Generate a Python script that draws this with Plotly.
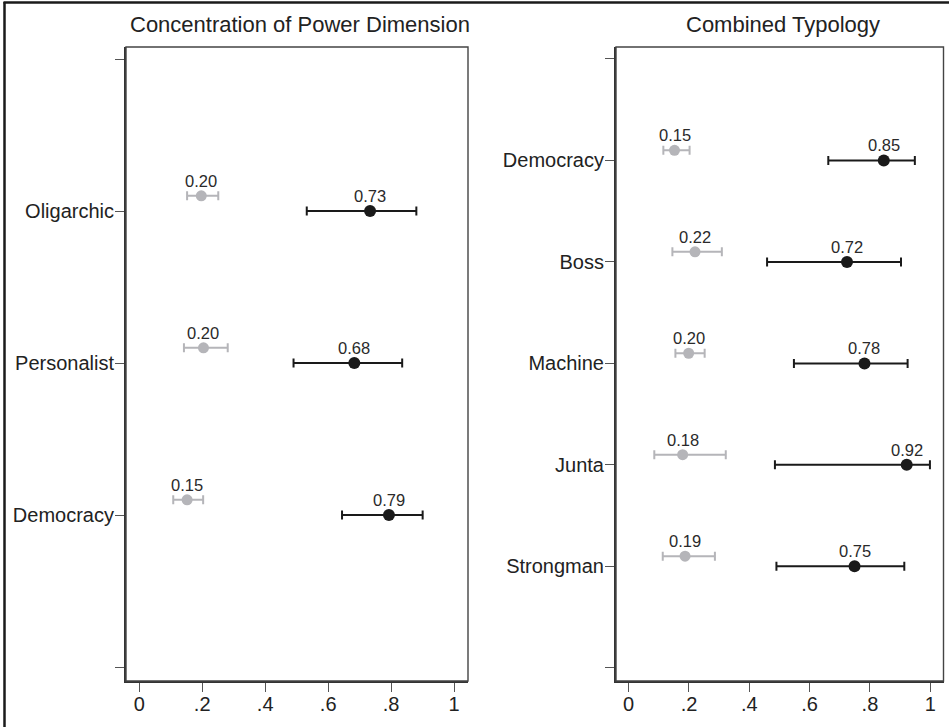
import plotly.graph_objects as go

# ---------------- data ----------------
left_title = "Concentration of Power Dimension"
left_cats = ["Oligarchic", "Personalist", "Democracy"]
left_low_est = [0.197, 0.204, 0.152]
left_low_lo = [0.152, 0.142, 0.108]
left_low_hi = [0.251, 0.281, 0.203]
left_high_est = [0.733, 0.683, 0.793]
left_high_lo = [0.532, 0.490, 0.644]
left_high_hi = [0.880, 0.835, 0.900]

right_title = "Combined Typology"
right_cats = ["Democracy", "Boss", "Machine", "Junta", "Strongman"]
right_low_est = [0.152, 0.220, 0.199, 0.179, 0.187]
right_low_lo = [0.115, 0.145, 0.155, 0.085, 0.113]
right_low_hi = [0.202, 0.309, 0.252, 0.322, 0.286]
right_high_est = [0.846, 0.724, 0.782, 0.922, 0.749]
right_high_lo = [0.662, 0.459, 0.548, 0.485, 0.490]
right_high_hi = [0.949, 0.903, 0.925, 0.999, 0.914]

x_tickvals = [0, 0.2, 0.4, 0.6, 0.8, 1]
x_ticktext = ["0", ".2", ".4", ".6", ".8", "1"]

# ---------------- style ----------------
W, H = 949, 727
FONT = "Liberation Sans, Arial, sans-serif"
GRAY = "#b5b5b9"
BLACK = "#1a1a1a"
TXT = "#2a2a2a"
GRAY_OFFSET = 0.1

fig = go.Figure()
annotations = []


def add_panel(cats, low_est, low_lo, low_hi, high_est, high_lo, high_hi, xa, ya):
    pos = list(range(1, len(cats) + 1))
    low_y = [p - GRAY_OFFSET for p in pos]
    for est, lo, hi, ys, col, sz in [
        (low_est, low_lo, low_hi, low_y, GRAY, 11),
        (high_est, high_lo, high_hi, pos, BLACK, 12),
    ]:
        fig.add_trace(go.Scatter(
            x=est, y=ys, mode="markers",
            marker=dict(color=col, size=sz),
            error_x=dict(type="data", symmetric=False,
                         array=[h - e for h, e in zip(hi, est)],
                         arrayminus=[e - l for e, l in zip(est, lo)],
                         color=col, thickness=2, width=4.5),
            xaxis=xa, yaxis=ya, showlegend=False, cliponaxis=False))
        for e, yv in zip(est, ys):
            annotations.append(dict(
                x=e, y=yv, xref=xa, yref=ya, text=f"{e:.2f}", showarrow=False,
                xanchor="center", yanchor="middle", yshift=15,
                font=dict(family=FONT, size=16.5, color=TXT)))


add_panel(left_cats, left_low_est, left_low_lo, left_low_hi,
          left_high_est, left_high_lo, left_high_hi, "x", "y")
add_panel(right_cats, right_low_est, right_low_lo, right_low_hi,
          right_high_est, right_high_lo, right_high_hi, "x2", "y2")

ydom = [1 - 681 / H, 1 - 47 / H]
lx = [126 / W, 468 / W]
rx = [616 / W, 943.5 / W]

xaxis_common = dict(
    range=[-0.042, 1.044], tickvals=x_tickvals, ticktext=x_ticktext,
    ticks="outside", ticklen=9, tickwidth=1.3, tickcolor="#555",
    showline=True, linewidth=2, linecolor="#333", showgrid=False, zeroline=False,
    automargin=False, ticklabelstandoff=-5,
    tickfont=dict(family=FONT, size=20, color="#222"), fixedrange=True)


def yaxis_common(cats, rng):
    return dict(
        range=rng,
        tickvals=list(range(0, len(cats) + 2)),
        ticktext=[""] + list(cats) + [""],
        ticks="outside", ticklen=9, tickwidth=1.3, tickcolor="#555",
        showline=True, linewidth=2, linecolor="#333", showgrid=False, zeroline=False,
        automargin=False, ticklabelstandoff=-3,
        tickfont=dict(family=FONT, size=20, color="#222"), fixedrange=True)


yl = yaxis_common(left_cats, [4.092, -0.079])
yr = yaxis_common(right_cats, [6.13, -0.118])

annotations += [
    dict(text=left_title, x=(lx[0] + lx[1]) / 2 + 3 / W, y=1 - 25 / H,
         xref="paper", yref="paper", showarrow=False, xanchor="center",
         yanchor="middle", font=dict(family=FONT, size=22, color="#222")),
    dict(text=right_title, x=(rx[0] + rx[1]) / 2 + 3 / W, y=1 - 25 / H,
         xref="paper", yref="paper", showarrow=False, xanchor="center",
         yanchor="middle", font=dict(family=FONT, size=22, color="#222")),
]

fig.update_layout(
    width=W, height=H, margin=dict(l=0, r=0, t=0, b=0, autoexpand=False),
    paper_bgcolor="white", plot_bgcolor="white",
    xaxis=dict(domain=lx, anchor="y", **xaxis_common),
    yaxis=dict(domain=ydom, anchor="x", **yl),
    xaxis2=dict(domain=rx, anchor="y2", **xaxis_common),
    yaxis2=dict(domain=ydom, anchor="x2", **yr),
    showlegend=False,
    annotations=annotations,
    shapes=[
        dict(type="rect", xref="x domain", yref="y domain", x0=0, x1=1, y0=0, y1=1,
             line=dict(color="#444", width=1.4)),
        dict(type="rect", xref="x2 domain", yref="y2 domain", x0=0, x1=1, y0=0, y1=1,
             line=dict(color="#444", width=1.4)),
        dict(type="line", xref="paper", yref="paper", x0=3.5 / W, x1=1,
             y0=1 - 2.5 / H, y1=1 - 2.5 / H, line=dict(color="#1a1a1a", width=2.5)),
        dict(type="line", xref="paper", yref="paper", x0=4.5 / W, x1=4.5 / W,
             y0=0, y1=1 - 2 / H, line=dict(color="#1a1a1a", width=2.5)),
    ],
)

fig.write_html("out.html", config={"displayModeBar": False},
               post_script="document.body.style.margin='0';document.body.style.overflow='hidden';")
